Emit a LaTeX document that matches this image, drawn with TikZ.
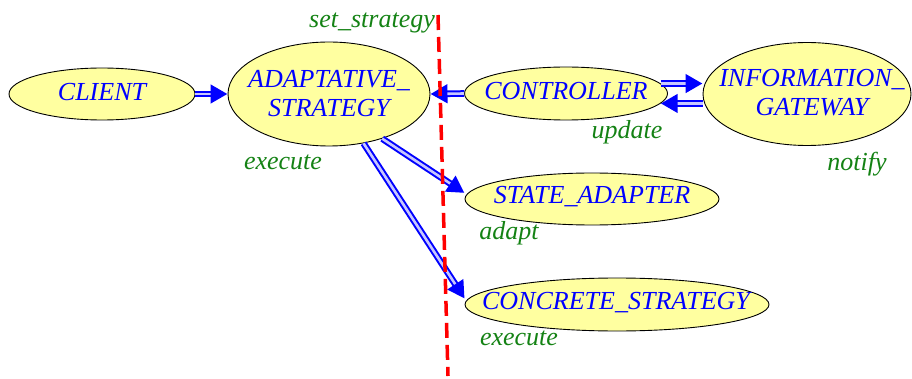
\documentclass[tikz,border=0pt]{standalone}
\usepackage{fontspec}
\setmainfont{Liberation Serif}
\usetikzlibrary{shapes.geometric,arrows.meta,decorations.markings}
\definecolor{fillyel}{RGB}{255,255,160}
\definecolor{lblgreen}{RGB}{20,130,20}
\tikzset{
  cls/.style={ellipse, draw=black, line width=0.9pt, fill=fillyel, inner sep=0pt},
  txt/.style={text=blue, font=\fontsize{26}{29}\selectfont\itshape, align=center, inner sep=0pt},
  feat/.style={text=lblgreen, font=\fontsize{26}{29}\selectfont\itshape, inner sep=0pt, anchor=base},
  dbl/.style={draw=blue, line width=2pt, double=blue!22, double distance=2.6pt, shorten >=13pt,
    decoration={markings, mark=at position 1 with {\arrow[blue]{Triangle[length=17pt,width=18pt]}}},
    postaction={decorate}},
  cut/.style={draw=red, line width=3.5pt, dash pattern=on 15pt off 7pt}
}
\begin{document}
\begin{tikzpicture}[x=1pt,y=-1pt]
\useasboundingbox (0,0) rectangle (912,379);
% red dashed separator
\coordinate (cutT) at (438,15);
\coordinate (cutB) at (448,376);
\node[cls, minimum width=186pt, minimum height=52pt] (cl) at (102,94) {};
\node[txt] (clt) at (102,92) {CLIENT};
\node[cls, minimum width=202pt, minimum height=104pt] (ad) at (329,94) {};
\node[txt] (adt) at (329,94) {ADAPTATIVE\_\\STRATEGY};
\node[cls, minimum width=203pt, minimum height=53pt] (ctrl) at (566,93.5) {};
\node[txt] (ctrlt) at (566,91) {CONTROLLER};
\node[cls, minimum width=208pt, minimum height=103pt] (info) at (807,94) {};
\node[txt] (infot) at (812,93) {INFORMATION\_\\GATEWAY};
\node[cls, minimum width=254pt, minimum height=52pt] (st) at (592,199) {};
\node[txt] (stt) at (592,197) {STATE\_ADAPTER};
\node[cls, minimum width=304pt, minimum height=53pt] (cc) at (617,304.5) {};
\node[txt] (cct) at (616,303) {CONCRETE\_STRATEGY};
% feature labels
\node[feat] (l1) at (372,28) {set\_strategy};
\node[feat] (l2) at (283,170) {execute};
\node[feat] (l3) at (627,139) {update};
\node[feat] (l4) at (857,171) {notify};
\node[feat] (l5) at (509,240) {adapt};
\node[feat] (l6) at (519,345) {execute};
% connectors
\draw[dbl] (cl.east) -- (ad.west);
\draw[dbl] (ctrl.west) -- (ad.east);
\draw[dbl] (ctrl.6) -- (ctrl.6 -| info.west);
\draw[dbl] (ctrl.-6 -| info.west) -- (ctrl.-6);
\draw[dbl] (ad.-40) -- ([yshift=6pt]st.west);
\draw[dbl] (ad.-55) -- ([yshift=6pt]cc.west);
\draw[cut] (cutT) -- (cutB);
\end{tikzpicture}
\end{document}
